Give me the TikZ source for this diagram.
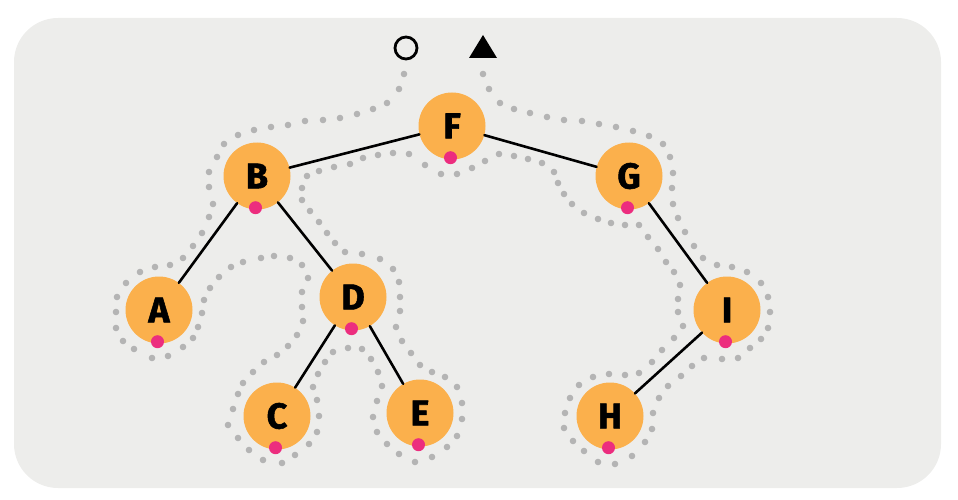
\documentclass[tikz,border=0pt]{standalone}
\usepackage{fontspec}
\setmainfont{Fira Sans}[BoldFeatures={FakeBold=1.5}]
\usepackage{tikz}
\definecolor{panelgray}{HTML}{EDEDEB}
\definecolor{nodeorange}{HTML}{FBB04C}
\definecolor{visitpink}{HTML}{EC2D7E}
\definecolor{trailgray}{HTML}{B4B4B4}

\begin{document}
\begin{tikzpicture}[line cap=round,line join=round,x=1pt,y=-1pt,
    vertex/.style={circle,fill=nodeorange,minimum size=67pt,inner sep=0pt,
        font=\fontsize{36}{36}\selectfont\bfseries},
    edge/.style={line width=2.6pt,black},
    visit/.style={circle,fill=visitpink,minimum size=13pt,inner sep=0pt},
    trail/.style={fill=trailgray}]
        \useasboundingbox (0,0) rectangle (958,500);
        \fill [panelgray,rounded corners=44pt] (14,18) rectangle (941,488);
        % euler tour dots
        \foreach \x/\y in {404/74,399/89,387/103,373/109,357/114,340/118,323/120,305/121,
            288/125,271/127,254/130,238/135,224/144,217/157,209/172,209/187,213/204,209/217,
            202/233,193/246,183/258,170/265,155/267,140/272,126/283,117/297,116/312,116/328,
            123/341,134/349,152/358,168/356,183/347,193/338,198/327,202/313,204/300,210/288,
            219/277,231/267,243/262,261/258,274/256,290/258,302/265,308/278,302/292,302/307,
            303/321,297/335,288/346,277/355,264/362,253/372,243/383,238/394,233/409,228/425,
            238/438,249/450,263/460,282/463,295/455,309/444,317/432,319/416,317/400,313/387,
            318/374,325/362,333/352,348/348,362/349,371/359,378/372,382/386,377/401,373/417,
            377/432,387/444,399/454,415/462,432/457,447/447,457/436,462/419,462/403,457/387,
            445/377,432/372,420/365,411/353,402/341,396/327,400/311,400/297,399/282,393/269,
            380/259,362/254,345/252,335/243,327/233,319/222,310/211,302/200,302/188,307/176,
            319/171,334/167,350/164,363/158,378/155,393/153,409/154,425/165,441/174,457/174,
            472/168,485/161,499/154,514/156,528/159,542/163,554/172,558/183,564/194,572/204,
            584/213,598/219,611/223,625/225,639/225,648/237,658/249,666/262,674/272,680/285,
            678/299,678/312,683/326,674/338,662/350,652/362,639/373,625/375,609/374,593/377,
            579/385,570/398,565/413,564/428,573/441,584/451,598/462,615/464,632/456,645/442,
            652/429,653/413,659/398,668/386,681/376,692/366,704/358,722/359,738/358,750/348,
            761/339,768/328,770/312,768/297,761/283,747/272,732/267,717/265,703/258,694/246,
            685/232,678/218,673/204,672/188,673/173,670/157,663/144,649/136,633/131,616/127,
            599/124,582/121,564/120,547/117,530/113,514/109,500/103,489/89,483/74}
            \fill [trail] (\x,\y) circle (3.3pt);
        % start and end marks
        \node [circle,draw,line width=2.8pt,minimum size=22pt,inner sep=0pt] (tourstart) at (406,48) {};
        \fill (483,35) -- (497,58) -- (469,58) -- cycle;
        % tree
        \node [vertex] (F) at (452,126) {F};
        \node [vertex] (B) at (257,176) {B};
        \node [vertex] (G) at (629,176) {G};
        \node [vertex] (A) at (159,310) {A};
        \node [vertex] (D) at (353,297) {D};
        \node [vertex] (C) at (277,416) {C};
        \node [vertex] (E) at (420,413) {E};
        \node [vertex] (H) at (610,416) {H};
        \node [vertex] (I) at (727,310) {I};
        \draw [edge] (F) -- (B);
        \draw [edge] (F) -- (G);
        \draw [edge] (B) -- (A);
        \draw [edge] (B) -- (D);
        \draw [edge] (D) -- (C);
        \draw [edge] (D) -- (E);
        \draw [edge] (G) -- (I);
        \draw [edge] (I) -- (H);
        \foreach \n in {F,B,G,A,D,C,E,H,I}
            \node [visit] (\n dot) at ([xshift=-1.5pt,yshift=2pt]\n.south) {};
    \end{tikzpicture}
\end{document}
